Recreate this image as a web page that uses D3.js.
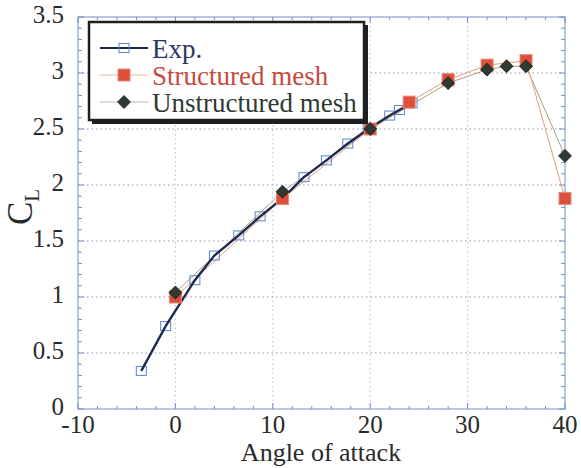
<!DOCTYPE html>
<html>
<head>
<meta charset="utf-8">
<script src="https://cdn.jsdelivr.net/npm/d3@7"></script>
<style>
  html, body { margin: 0; padding: 0; background: #fff; }
  svg text { font-family: "Liberation Serif", "Times New Roman", Times, "DejaVu Serif", serif; }
</style>
</head>
<body>
<svg id="chart" width="581" height="468" style="display:block"></svg>
<script>
// experimental curve
const expAngle = [-3.5, -1, 2, 4, 6.5, 8.7, 11, 13.2, 15.5, 17.7, 19.8, 22, 23, 24.3]
const expCL = [0.34, 0.74, 1.15, 1.37, 1.55, 1.72, 1.88, 2.07, 2.22, 2.37, 2.5, 2.62, 2.67, 2.73]

// structured mesh
const strAngle = [0, 11, 20, 24, 28, 32, 36, 40]
const strCL = [1.0, 1.88, 2.5, 2.74, 2.94, 3.07, 3.11, 1.88]

// unstructured mesh
const unsAngle = [0, 11, 20, 28, 32, 34, 36, 40]
const unsCL = [1.04, 1.94, 2.5, 2.91, 3.03, 3.06, 3.06, 2.26]

const xTicks = [-10, 0, 10, 20, 30, 40]
const yTicks = [0, 0.5, 1, 1.5, 2, 2.5, 3, 3.5]
const legendLabels = ["Exp.", "Structured mesh", "Unstructured mesh"]

const svg = d3.select("#chart")
const plotL = 78, plotR = 565, plotT = 17, plotB = 409

const x = d3.scaleLinear().domain([-10, 40]).range([plotL, plotR])
const y = d3.scaleLinear().domain([0, 3.5]).range([plotB, plotT])

const axisBlue = "#6f8fc8"
const ink = "#2a2a2a"

// grid
const grid = svg.append("g")
grid.selectAll(".gx").data(xTicks.slice(1, -1)).enter().append("line")
	.attr("x1", d => x(d)).attr("x2", d => x(d))
	.attr("y1", plotT).attr("y2", plotB)
	.attr("stroke", "#b8bfd0").attr("stroke-width", 1).attr("stroke-dasharray", "1.5,3")
grid.selectAll(".gy").data(yTicks.slice(1, -1)).enter().append("line")
	.attr("x1", plotL).attr("x2", plotR)
	.attr("y1", d => y(d)).attr("y2", d => y(d))
	.attr("stroke", "#8d97b4").attr("stroke-width", 1.2).attr("stroke-dasharray", "1.5,3")

// frame
svg.append("rect")
	.attr("x", plotL).attr("y", plotT)
	.attr("width", plotR - plotL).attr("height", plotB - plotT)
	.attr("fill", "none").attr("stroke", axisBlue).attr("stroke-width", 1)

// inward ticks on all four sides
const xMinor = d3.range(-10, 40.01, 2)
const yMinor = d3.range(0, 3.501, 0.1)
const ticks = svg.append("g").attr("stroke", axisBlue).attr("stroke-width", 1)
xMinor.forEach(v => {
	const len = Math.abs(v % 10) < 1e-6 ? 6 : 3
	ticks.append("line").attr("x1", x(v)).attr("x2", x(v)).attr("y1", plotB).attr("y2", plotB - len)
	ticks.append("line").attr("x1", x(v)).attr("x2", x(v)).attr("y1", plotT).attr("y2", plotT + len)
})
yMinor.forEach(v => {
	const major = Math.abs(v * 2 - Math.round(v * 2)) < 1e-6
	const len = major ? 6 : 4
	ticks.append("line").attr("y1", y(v)).attr("y2", y(v)).attr("x1", plotL).attr("x2", plotL + len)
	ticks.append("line").attr("y1", y(v)).attr("y2", y(v)).attr("x1", plotR).attr("x2", plotR - len)
})

// tick labels
svg.append("g").selectAll("text").data(xTicks).enter().append("text")
	.attr("x", d => x(d)).attr("y", plotB + 24)
	.attr("text-anchor", "middle").attr("font-size", 25).attr("fill", ink)
	.text(d => d)
svg.append("g").selectAll("text").data(yTicks).enter().append("text")
	.attr("x", plotL - 14).attr("y", d => y(d) + 6)
	.attr("text-anchor", "end").attr("font-size", 25).attr("fill", ink)
	.text(d => d)

// axis titles
svg.append("text")
	.attr("x", 321).attr("y", 461)
	.attr("text-anchor", "middle").attr("font-size", 26).attr("fill", ink)
	.text("Angle of attack")
const yl = svg.append("text")
	.attr("transform", "translate(32,207) rotate(-90)")
	.attr("text-anchor", "middle").attr("font-size", 35).attr("fill", ink)
yl.append("tspan").text("C")
yl.append("tspan").attr("font-size", 21).attr("dy", 7).text("L")

const zip = (a, b) => a.map((v, i) => [v, b[i]])
const line = d3.line().x(d => x(d[0])).y(d => y(d[1]))

const expData = zip(expAngle, expCL)
const strData = zip(strAngle, strCL)
const unsData = zip(unsAngle, unsCL)

// series lines
svg.append("path").datum(unsData).attr("d", line)
	.attr("fill", "none").attr("stroke", "#a9a27a").attr("stroke-width", 1)
svg.append("path").datum(strData).attr("d", line)
	.attr("fill", "none").attr("stroke", "#e0a080").attr("stroke-width", 1)

// exp markers
svg.append("g").selectAll("rect").data(expData).enter().append("rect")
	.attr("x", d => x(d[0]) - 5).attr("y", d => y(d[1]) - 4.5)
	.attr("width", 10).attr("height", 9)
	.attr("fill", "none").attr("stroke", "#5a86d0").attr("stroke-width", 1)
svg.append("path").datum(expData).attr("d", line)
	.attr("fill", "none").attr("stroke", "#1e2a50").attr("stroke-width", 2.4)

// structured squares
svg.append("g").selectAll("rect").data(strData).enter().append("rect")
	.attr("x", d => x(d[0]) - 6).attr("y", d => y(d[1]) - 6)
	.attr("width", 12).attr("height", 12)
	.attr("fill", "#dc4f3a").attr("stroke", "#e88a74").attr("stroke-width", 1)

// unstructured diamonds
const diamond = d3.symbol().type(d3.symbolDiamond2).size(105)
svg.append("g").selectAll("path").data(unsData).enter().append("path")
	.attr("transform", d => `translate(${x(d[0])},${y(d[1])})`)
	.attr("d", diamond)
	.attr("fill", "#2f3a33").attr("stroke", "#222")

// legend
const lg = svg.append("g")
lg.append("rect").attr("x", 92).attr("y", 25).attr("width", 276).attr("height", 99).attr("fill", "#1d1f22")
lg.append("rect").attr("x", 89).attr("y", 22).attr("width", 275).attr("height", 98)
	.attr("fill", "#fff").attr("stroke", "#1d1f22").attr("stroke-width", 2.5)

const rowY = [48, 75, 102]
const textColors = ["#2c3566", "#c54a3c", "#2e3a32"]
lg.selectAll("text").data(legendLabels).enter().append("text")
	.attr("x", 152).attr("y", (d, i) => rowY[i] + 10)
	.attr("font-size", 27).attr("fill", (d, i) => textColors[i])
	.text(d => d)

lg.append("line").attr("x1", 100).attr("x2", 148).attr("y1", rowY[0]).attr("y2", rowY[0])
	.attr("stroke", "#1e2a50").attr("stroke-width", 2.2)
lg.append("rect").attr("x", 119).attr("y", rowY[0] - 4.5).attr("width", 10).attr("height", 9)
	.attr("fill", "none").attr("stroke", "#5a86d0")
lg.append("line").attr("x1", 100).attr("x2", 148).attr("y1", rowY[1]).attr("y2", rowY[1])
	.attr("stroke", "#e8b8a0").attr("stroke-width", 1)
lg.append("rect").attr("x", 118).attr("y", rowY[1] - 6).attr("width", 12).attr("height", 12)
	.attr("fill", "#dc4f3a").attr("stroke", "#e88a74")
lg.append("line").attr("x1", 100).attr("x2", 148).attr("y1", rowY[2]).attr("y2", rowY[2])
	.attr("stroke", "#b8b8a8").attr("stroke-width", 1)
lg.append("path").attr("transform", `translate(124,${rowY[2]})`).attr("d", diamond)
	.attr("fill", "#2f3a33").attr("stroke", "#222")
</script>
</body>
</html>
